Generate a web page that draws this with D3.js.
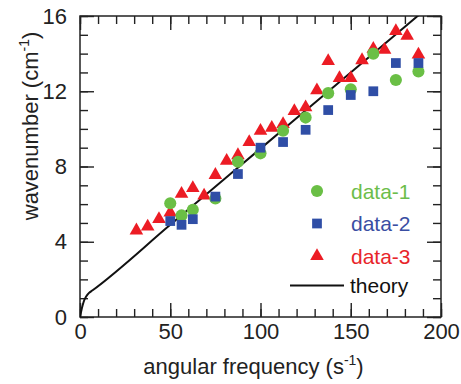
<!DOCTYPE html>
<html>
<head>
<meta charset="utf-8">
<script src="https://cdn.jsdelivr.net/npm/d3@7"></script>
<style>
  body { margin: 0; background: #fff; }
  text { font-family: Arial, "Liberation Sans", sans-serif; }
</style>
</head>
<body>
<svg></svg>
<script>
// constants
const WIDTH = 461;
const HEIGHT = 384;
const LEFT = 80, RIGHT = 441, TOP = 16, BOTTOM = 317;
const FONT = 22;

// data
const freq13 = [50, 56.25, 62.5, 75, 87.5, 100, 112.5, 125, 137.5, 150, 162.5, 175, 187.5];
const data1 = [6.05, 5.4, 5.7, 6.3, 8.25, 8.7, 9.9, 10.6, 11.9, 12.1, 14.0, 12.6, 13.05];
const data2 = [5.1, 4.9, 5.2, 6.4, 7.6, 9.0, 9.3, 9.95, 11.0, 11.8, 12.0, 13.5, 13.5];
const freq26 = [31.25, 37.5, 43.75, 50, 56.25, 62.5, 68.75, 75, 81.25, 87.5, 93.75, 100, 106.25,
                112.5, 118.75, 125, 131.25, 137.5, 143.75, 150, 156.25, 162.5, 168.75, 175, 181.25, 187.5];
const data3 = [4.6, 4.8, 5.2, 5.55, 6.55, 6.85, 6.45, 7.55, 8.3, 8.6, 9.3, 9.9, 10.05,
               10.25, 10.95, 11.15, 12.05, 13.6, 12.7, 12.7, 13.65, 14.25, 14.2, 15.2, 14.95, 13.95];
const theoryX = [0, 1, 2, 3.5, 5, 7, 50, 100, 150, 200];
const theoryY = [0, 0.45, 0.8, 1.1, 1.28, 1.42, 4.9, 8.95, 13.0, 17.05];
const xTicks = [0, 50, 100, 150, 200];
const yTicks = [0, 4, 8, 12, 16];

const colors = { d1: '#6abf45', d2: '#2f4ea6', d3: '#ec1c24' };
const textColors = { d1: '#6cbd4a', d2: '#3a4ea3', d3: '#e8252a' };

const svg = d3.select('svg')
    .attr('width', WIDTH)
    .attr('height', HEIGHT);

// scales
const x = d3.scaleLinear().domain([0, 200]).range([LEFT, RIGHT]);
const y = d3.scaleLinear().domain([0, 16]).range([BOTTOM, TOP]);

const minorX = d3.range(0, 201, 10);
const minorY = d3.range(0, 17, 1);

// axes: ticks point inward on all four sides
function styleAxis(g) {
    g.select('.domain').remove();
    g.selectAll('line').attr('stroke', '#222').attr('stroke-width', 1.4);
    g.selectAll('text').attr('font-size', FONT).attr('fill', '#222')
        .attr('font-family', 'Arial, "Liberation Sans", sans-serif');
}

svg.append('g').attr('transform', `translate(0,${BOTTOM})`)
    .call(d3.axisBottom(x).tickValues(minorX).tickSize(-8).tickFormat(''))
    .call(styleAxis);
svg.append('g').attr('transform', `translate(0,${BOTTOM})`)
    .call(d3.axisBottom(x).tickValues(xTicks).tickSize(-14).tickPadding(6).tickFormat(d3.format('d')))
    .call(styleAxis);
svg.append('g').attr('transform', `translate(0,${TOP})`)
    .call(d3.axisTop(x).tickValues(minorX).tickSize(-8).tickFormat(''))
    .call(styleAxis);
svg.append('g').attr('transform', `translate(0,${TOP})`)
    .call(d3.axisTop(x).tickValues(xTicks).tickSize(-14).tickFormat(''))
    .call(styleAxis);

svg.append('g').attr('transform', `translate(${LEFT},0)`)
    .call(d3.axisLeft(y).tickValues(minorY).tickSize(-8).tickFormat(''))
    .call(styleAxis);
svg.append('g').attr('transform', `translate(${LEFT},0)`)
    .call(d3.axisLeft(y).tickValues(yTicks).tickSize(-14).tickPadding(13).tickFormat(d3.format('d')))
    .call(styleAxis);
svg.append('g').attr('transform', `translate(${RIGHT},0)`)
    .call(d3.axisRight(y).tickValues(minorY).tickSize(-8).tickFormat(''))
    .call(styleAxis);
svg.append('g').attr('transform', `translate(${RIGHT},0)`)
    .call(d3.axisRight(y).tickValues(yTicks).tickSize(-14).tickFormat(''))
    .call(styleAxis);

// frame
svg.append('rect')
    .attr('x', LEFT).attr('y', TOP)
    .attr('width', RIGHT - LEFT).attr('height', BOTTOM - TOP)
    .attr('fill', 'none').attr('stroke', '#222').attr('stroke-width', 1.5);

// theory curve
svg.append('clipPath').attr('id', 'plot-clip')
    .append('rect')
    .attr('x', LEFT).attr('y', TOP)
    .attr('width', RIGHT - LEFT).attr('height', BOTTOM - TOP);

const line = d3.line()
    .x(d => x(d[0]))
    .y(d => y(d[1]))
    .curve(d3.curveMonotoneX);

svg.append('path')
    .datum(d3.zip(theoryX, theoryY))
    .attr('clip-path', 'url(#plot-clip)')
    .attr('fill', 'none')
    .attr('stroke', '#111')
    .attr('stroke-width', 2)
    .attr('d', line);

// markers
const circle = d3.symbol().type(d3.symbolCircle).size(115);
const square = d3.symbol().type(d3.symbolSquare).size(95);
const triangle = d3.symbol().type(d3.symbolTriangle).size(80);

svg.append('g').selectAll('path')
    .data(d3.zip(freq26, data3)).join('path')
    .attr('transform', d => `translate(${x(d[0])},${y(d[1])})`)
    .attr('d', triangle)
    .attr('fill', colors.d3);

svg.append('g').selectAll('path')
    .data(d3.zip(freq13, data1)).join('path')
    .attr('transform', d => `translate(${x(d[0])},${y(d[1])})`)
    .attr('d', circle)
    .attr('fill', colors.d1);

svg.append('g').selectAll('path')
    .data(d3.zip(freq13, data2)).join('path')
    .attr('transform', d => `translate(${x(d[0])},${y(d[1])})`)
    .attr('d', square)
    .attr('fill', colors.d2);

// legend
const legend = svg.append('g').attr('transform', 'translate(317,191)');
const legendItems = [
    { name: 'data-1', sym: circle, color: colors.d1, tc: textColors.d1 },
    { name: 'data-2', sym: square, color: colors.d2, tc: textColors.d2 },
    { name: 'data-3', sym: triangle, color: colors.d3, tc: textColors.d3 }
];
const STEP = 32.5;
legend.selectAll('path.sym')
    .data(legendItems).join('path')
    .attr('class', 'sym')
    .attr('transform', (d, i) => `translate(0,${i * STEP})`)
    .attr('d', d => d.sym())
    .attr('fill', d => d.color);
legend.selectAll('text.lab')
    .data(legendItems).join('text')
    .attr('class', 'lab')
    .attr('x', 34)
    .attr('y', (d, i) => i * STEP)
    .attr('dy', '0.36em')
    .attr('font-size', FONT - 1)
    .attr('fill', d => d.tc)
    .text(d => d.name);
legend.append('line')
    .attr('x1', -27).attr('x2', 27)
    .attr('y1', 3 * STEP - 3).attr('y2', 3 * STEP - 3)
    .attr('stroke', '#111').attr('stroke-width', 2);
legend.append('text')
    .attr('x', 33).attr('y', 3 * STEP - 3).attr('dy', '0.36em')
    .attr('font-size', FONT - 1).attr('fill', '#111')
    .text('theory');

// axis titles
const xTitle = svg.append('text')
    .attr('x', (LEFT + RIGHT) / 2 - 7).attr('y', 374)
    .attr('text-anchor', 'middle')
    .attr('font-size', FONT).attr('fill', '#222');
xTitle.append('tspan').text('angular frequency (s');
xTitle.append('tspan').attr('font-size', 14).attr('dy', -9).text('-1');
xTitle.append('tspan').attr('dy', 9).text(')');

const yTitle = svg.append('text')
    .attr('transform', 'translate(38,126) rotate(-90)')
    .attr('text-anchor', 'middle')
    .attr('font-size', FONT).attr('fill', '#222');
yTitle.append('tspan').text('wavenumber (cm');
yTitle.append('tspan').attr('font-size', 14).attr('dy', -9).text('-1');
yTitle.append('tspan').attr('dy', 9).text(')');
</script>
</body>
</html>
